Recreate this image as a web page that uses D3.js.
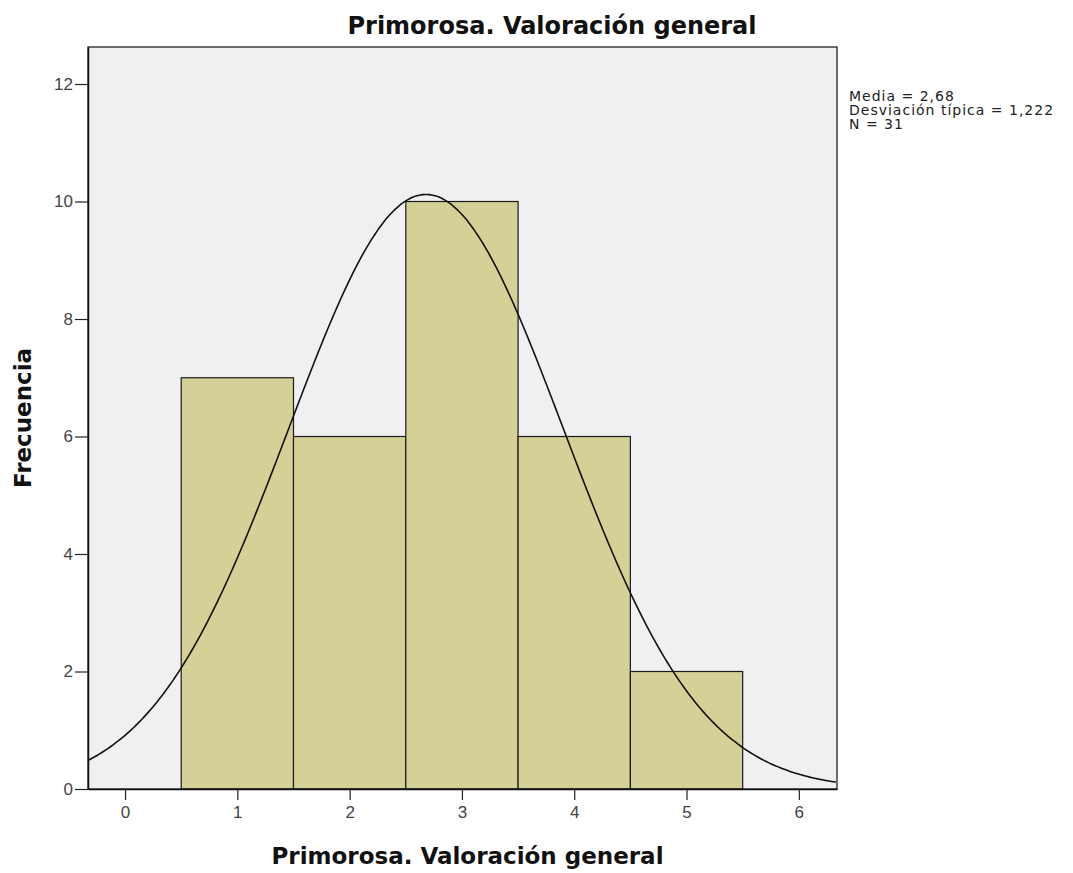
<!DOCTYPE html>
<html>
<head>
<meta charset="utf-8">
<script src="https://cdn.jsdelivr.net/npm/d3@7"></script>
<style>
  body { margin: 0; background: #fff; }
  text { font-family: "Liberation Sans", Arial, sans-serif; }
</style>
</head>
<body>
<div class="canvas"></div>
<script>
// ---------- data ----------
const binStarts = [0.5, 1.5, 2.5, 3.5, 4.5];
const binEnds = [1.5, 2.5, 3.5, 4.5, 5.5];
const counts = [7, 6, 10, 6, 2];
const xTicks = [0, 1, 2, 3, 4, 5, 6];
const yTicks = [0, 2, 4, 6, 8, 10, 12];
const statLabels = ['Media = 2,68', 'Desviación típica = 1,222', 'N = 31'];
const statMean = 2.68, statSd = 1.222, statN = 31;

// ---------- set up ----------
const width = 1073, height = 873;
const margin = { top: 47, right: 236, bottom: 84, left: 88 };
const graphWidth = width - margin.left - margin.right;
const graphHeight = height - margin.top - margin.bottom;

const svg = d3.select('.canvas')
    .append('svg')
    .attr('width', width)
    .attr('height', height);

const graph = svg.append('g')
    .attr('transform', `translate(${margin.left},${margin.top})`);

const x = d3.scaleLinear()
    .domain([-0.33, 6.34])
    .range([0, graphWidth]);

const y = d3.scaleLinear()
    .domain([0, 12.63])
    .range([graphHeight, 0]);

// plot background
graph.append('rect')
    .attr('width', graphWidth)
    .attr('height', graphHeight)
    .attr('fill', '#f0f0f3');

// bars
const bins = counts.map((c, i) => ({ x0: binStarts[i], x1: binEnds[i], count: c }));
graph.selectAll('rect.bar')
    .data(bins)
    .enter()
    .append('rect')
    .attr('class', 'bar')
    .attr('x', d => x(d.x0))
    .attr('y', d => y(d.count))
    .attr('width', d => x(d.x1) - x(d.x0))
    .attr('height', d => graphHeight - y(d.count))
    .attr('fill', '#d5d196')
    .attr('stroke', '#1a1a1a')
    .attr('stroke-width', 1.2);

// normal curve built from the reported mean / sd / n (bin width 1)
const pdf = v => statN * Math.exp(-0.5 * Math.pow((v - statMean) / statSd, 2)) / (statSd * Math.sqrt(2 * Math.PI));
const curveXs = d3.range(x.domain()[0], x.domain()[1] + 0.001, 0.02);
const line = d3.line()
    .x(d => x(d))
    .y(d => y(pdf(d)))
    .curve(d3.curveBasis);

graph.append('path')
    .datum(curveXs)
    .attr('d', line)
    .attr('fill', 'none')
    .attr('stroke', '#111')
    .attr('stroke-width', 1.6);

// frame
graph.append('rect')
    .attr('width', graphWidth)
    .attr('height', graphHeight)
    .attr('fill', 'none')
    .attr('stroke', '#222')
    .attr('stroke-width', 1.3);

// axes
const xAxis = d3.axisBottom(x)
    .tickValues(xTicks)
    .tickSize(11)
    .tickSizeOuter(0)
    .tickPadding(6)
    .tickFormat(d3.format('d'));
const yAxis = d3.axisLeft(y)
    .tickValues(yTicks)
    .tickSize(13)
    .tickSizeOuter(0)
    .tickPadding(2)
    .tickFormat(d3.format('d'));

const xAxisGroup = graph.append('g')
    .attr('transform', `translate(0,${graphHeight})`)
    .call(xAxis);
const yAxisGroup = graph.append('g')
    .call(yAxis);

[xAxisGroup, yAxisGroup].forEach(g => {
    g.select('.domain').attr('stroke', '#111').attr('stroke-width', 1.5);
    g.selectAll('.tick line').attr('stroke', '#222').attr('stroke-width', 1.2);
    g.selectAll('.tick text')
        .attr('fill', '#444')
        .style('font-size', '17px')
        .style('font-family', '"Liberation Sans", Arial, sans-serif');
});

// title
svg.append('text')
    .attr('x', 552)
    .attr('y', 34)
    .attr('text-anchor', 'middle')
    .attr('fill', '#111')
    .style('font-family', '"DejaVu Sans", sans-serif')
    .style('font-size', '24px')
    .style('font-weight', 'bold')
    .text('Primorosa. Valoración general');

// axis titles
svg.append('text')
    .attr('x', margin.left + graphWidth / 2 + 5)
    .attr('y', 864)
    .attr('text-anchor', 'middle')
    .attr('fill', '#111')
    .style('font-family', '"DejaVu Sans", sans-serif')
    .style('font-size', '23px')
    .style('font-weight', 'bold')
    .text('Primorosa. Valoración general');

svg.append('text')
    .attr('transform', `translate(31,418) rotate(-90)`)
    .attr('text-anchor', 'middle')
    .attr('fill', '#111')
    .style('font-family', '"DejaVu Sans", sans-serif')
    .style('font-size', '23px')
    .style('font-weight', 'bold')
    .text('Frecuencia');

// stats box
svg.append('g')
    .selectAll('text')
    .data(statLabels)
    .enter()
    .append('text')
    .attr('x', 849)
    .attr('y', (d, i) => 101 + i * 14)
    .attr('fill', '#222')
    .style('font-family', '"DejaVu Sans", sans-serif')
    .style('font-size', '14px')
    .style('letter-spacing', '1px')
    .text(d => d);
</script>
</body>
</html>
